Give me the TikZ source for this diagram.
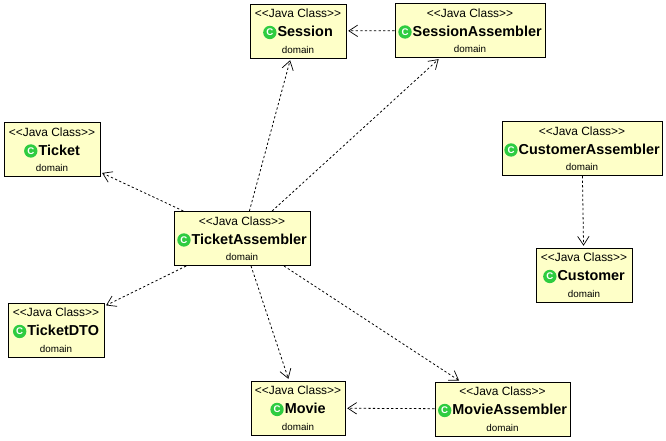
\documentclass[tikz,border=0pt]{standalone}
\usepackage{fontspec}
\setmainfont{Liberation Sans}
\usetikzlibrary{arrows.meta}
\definecolor{classfill}{HTML}{FEFFC8}
\definecolor{icongreen}{HTML}{2ECC40}
\newcommand{\classicon}{\tikz[baseline=-2.5pt]\node[circle,fill=icongreen,text=white,inner sep=0pt,minimum size=7.6pt,font=\fontsize{5.5}{5.5}\selectfont\bfseries]{C};}
\newcommand{\classtext}[1]{{\fontsize{6.8}{11}\selectfont <{}<Java Class>{}>}\\[-1pt]
  \classicon\kern.6pt{\fontsize{8.2}{11}\selectfont\bfseries #1}\\[-2.8pt]
  {\fontsize{5.6}{9}\selectfont domain}}
\tikzset{
  classbox/.style={draw,line width=.55pt,fill=classfill,align=center,inner sep=0pt,minimum height=54*.02cm},
  dep/.style={->,line width=.45pt,dash pattern=on 1.3pt off 1.3pt,shorten >=1pt},
}
\begin{document}
\begin{tikzpicture}[x=.02cm,y=-.02cm,>={Straight Barb[length=5pt,width=6.5pt,line width=.4pt]}]
\useasboundingbox (0,0) rectangle (666,440);
\node[classbox,minimum width=96*.02cm](session) at (298,31){\classtext{Session}};
\node[classbox,minimum width=150*.02cm](sessionasm) at (470,30.5){\classtext{SessionAssembler}};
\node[classbox,minimum width=96*.02cm](ticket) at (52,149.5){\classtext{Ticket}};
\node[classbox,minimum width=136*.02cm](ticketasm) at (242,238.5){\classtext{TicketAssembler}};
\node[classbox,minimum width=96*.02cm](ticketdto) at (56,330){\classtext{TicketDTO}};
\node[classbox,minimum width=94*.02cm](movie) at (298,408){\classtext{Movie}};
\node[classbox,minimum width=135*.02cm](movieasm) at (502.5,409){\classtext{MovieAssembler}};
\node[classbox,minimum width=160*.02cm](customerasm) at (582,148.5){\classtext{CustomerAssembler}};
\node[classbox,minimum width=96*.02cm](customer) at (584,275){\classtext{Customer}};
\draw[dep](sessionasm)--(session);
\draw[dep](ticketasm)--(session);
\draw[dep](ticketasm)--(sessionasm);
\draw[dep](ticketasm)--(ticket);
\draw[dep](ticketasm)--(ticketdto);
\draw[dep](ticketasm)--(movie);
\draw[dep](ticketasm)--(movieasm);
\draw[dep](movieasm)--(movie);
\draw[dep](customerasm)--(customer);
\end{tikzpicture}
\end{document}
